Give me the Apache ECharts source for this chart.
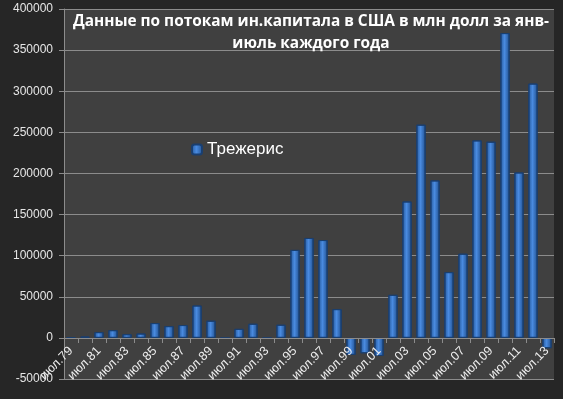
<!DOCTYPE html>
<html>
<head>
<meta charset="utf-8">
<script src="https://cdn.jsdelivr.net/npm/echarts@6/dist/echarts.min.js"></script>
<style>
  html, body { margin: 0; padding: 0; background: #262626; }
  #chart { width: 563px; height: 399px; }
</style>
</head>
<body>
<div id="chart"></div>
<script>
const years = ['июл.79', 'июл.80', 'июл.81', 'июл.82', 'июл.83', 'июл.84', 'июл.85', 'июл.86', 'июл.87',
  'июл.88', 'июл.89', 'июл.90', 'июл.91', 'июл.92', 'июл.93', 'июл.94', 'июл.95', 'июл.96', 'июл.97',
  'июл.98', 'июл.99', 'июл.00', 'июл.01', 'июл.02', 'июл.03', 'июл.04', 'июл.05', 'июл.06', 'июл.07',
  'июл.08', 'июл.09', 'июл.10', 'июл.11', 'июл.12', 'июл.13'];

const treasuries = [400, 1600, 7000, 9400, 4500, 5300, 18000, 14300, 15600,
  39400, 20900, 0, 11000, 17200, 0, 16000, 107000, 121500, 119000,
  35000, -20700, -18700, -22000, 52400, 165900, 259300, 191500, 80000, 102400,
  240200, 238600, 370700, 201200, 309300, -12600];

const seriesName = 'Трежерис';
const titleText = 'Данные по потокам ин.капитала в США в млн долл за янв-\nиюль каждого года';

const chart = echarts.init(document.getElementById('chart'));

const barColor = new echarts.graphic.LinearGradient(0, 0, 1, 0, [
  { offset: 0, color: '#24589c' },
  { offset: 0.45, color: '#4a8be0' },
  { offset: 1, color: '#1f4f8f' }
]);

// grid: top 9, bottom 20 -> plot height 370, zero line 41px above the bottom
chart.setOption({
  backgroundColor: '#262626',
  title: {
    text: titleText,
    left: 306,
    top: 6,
    textAlign: 'center',
    textStyle: {
      color: '#ffffff',
      fontFamily: 'Open Sans',
      fontWeight: 'bold',
      fontSize: 15.4,
      lineHeight: 22,
      align: 'center'
    }
  },
  legend: {
    data: [seriesName],
    left: 186,
    top: 136,
    itemWidth: 10,
    itemHeight: 10,
    itemGap: 4,
    textStyle: { color: '#ffffff', fontSize: 17, fontFamily: 'Liberation Sans' }
  },
  grid: {
    left: 64,
    right: 9,
    top: 9,
    bottom: 20,
    outerBoundsMode: 'none',
    containLabel: false,
    show: true,
    backgroundColor: '#404040',
    borderWidth: 0
  },
  xAxis: {
    type: 'category',
    data: years,
    position: 'bottom',
    offset: -41,
    z: 5,
    axisLine: { onZero: false, lineStyle: { color: '#8c8c8c', width: 1 } },
    axisTick: { show: true, alignWithLabel: false, interval: 0, length: 5, lineStyle: { color: '#8c8c8c' } },
    axisLabel: {
      interval: 1,
      rotate: 45,
      color: '#eeeeee',
      fontSize: 12.5,
      fontFamily: 'Liberation Sans',
      margin: 11
    }
  },
  yAxis: {
    type: 'value',
    min: -50000,
    max: 400000,
    interval: 50000,
    axisLine: { show: true, lineStyle: { color: '#8c8c8c' } },
    axisTick: { show: true, length: 5, lineStyle: { color: '#8c8c8c' } },
    axisLabel: {
      color: '#e6e6e6',
      fontSize: 12,
      fontFamily: 'Liberation Sans',
      margin: 11,
      formatter: function (v) { return String(v); }
    },
    splitLine: { lineStyle: { color: '#8c8c8c', width: 1 } }
  },
  series: [{
    name: seriesName,
    type: 'bar',
    data: treasuries,
    barCategoryGap: '34%',
    itemStyle: {
      color: barColor,
      borderColor: '#1a3f70',
      borderWidth: 1
    }
  }]
});
</script>
</body>
</html>
